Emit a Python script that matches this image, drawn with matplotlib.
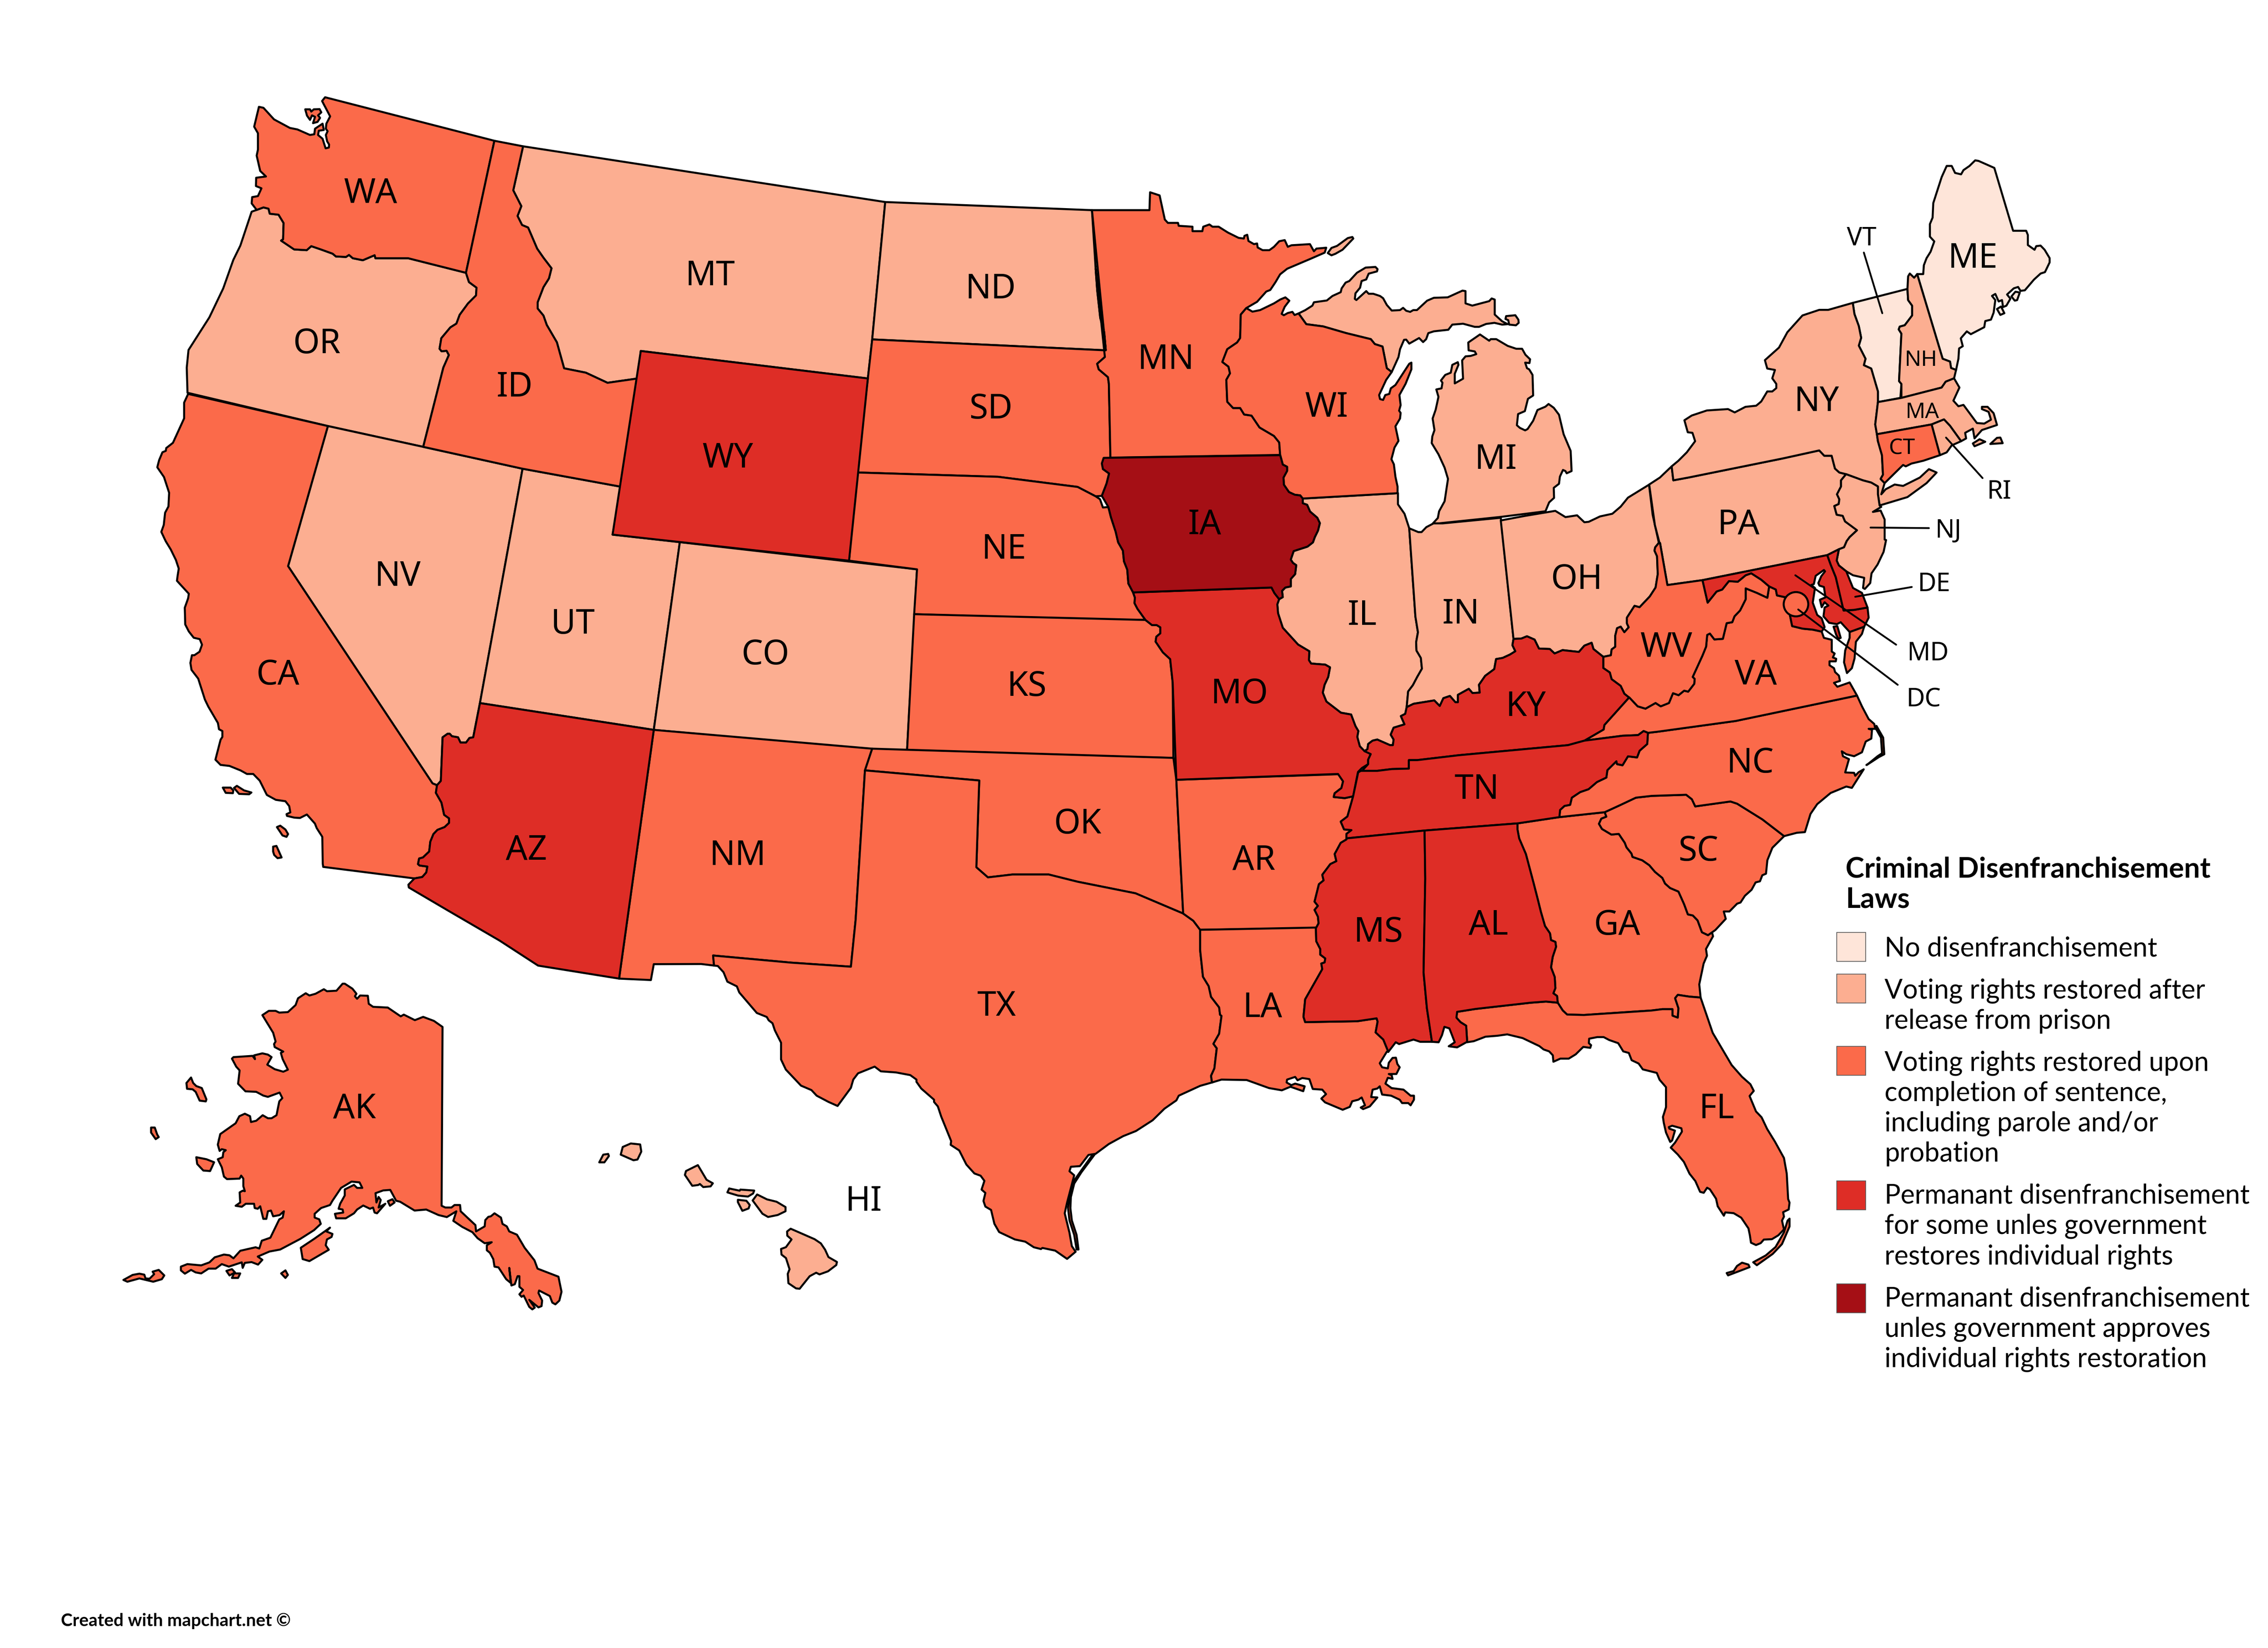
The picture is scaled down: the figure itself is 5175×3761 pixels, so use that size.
#!/usr/bin/env python
import matplotlib
matplotlib.use('Agg')
import matplotlib.pyplot as plt
from matplotlib.patches import Polygon, Ellipse, Rectangle

W, H = 5175, 3762
K = W / 1568.0


def pv(pts):
    # points at 1568 px wide
    return [(x * K, y * K) for x, y in pts]


def crop(x0, y0, w, h):
    def f(pts):
        return [(x0 + x * w / 1568.0, y0 + y * h / 1568.0) for x, y in pts]
    return f


c1 = crop(3600, 300, 1200, 1000)
c2 = crop(3700, 1200, 800, 700)
c4 = crop(250, 2200, 1100, 900)
c5 = crop(1300, 2550, 800, 500)
c6 = crop(2900, 1700, 1200, 800)
c7 = crop(3200, 2300, 1000, 700)
c8 = crop(2500, 400, 1100, 800)
c9 = crop(340, 200, 900, 900)
c10 = crop(340, 900, 800, 1250)
c11 = crop(1600, 2100, 1700, 800)
c12 = crop(2500, 1000, 1300, 800)

colors = ['#FEE5D9', '#FCAE91', '#FB6A4A', '#DE2D26', '#A50F15']
legend_title = ['Criminal Disenfranchisement', 'Laws']
legend_lines = [
    ['No disenfranchisement'],
    ['Voting rights restored after', 'release from prison'],
    ['Voting rights restored upon', 'completion of sentence,', 'including parole and/or', 'probation'],
    ['Permanant disenfranchisement', 'for some unles government', 'restores individual rights'],
    ['Permanant disenfranchisement', 'unles government approves', 'individual rights restoration'],
]
legend_swatch_y = [645, 674, 724, 817, 888]
legend_text_y = [656, 685, 735, 827, 898]

group0 = ['ME', 'VT']
group1 = ['OR', 'MT', 'ND', 'NV', 'UT', 'CO', 'MI', 'IL', 'IN', 'OH', 'PA', 'NY', 'NJ', 'NH', 'MA', 'RI', 'HI']
group2 = ['WA', 'ID', 'CA', 'SD', 'NE', 'KS', 'NM', 'OK', 'TX', 'MN', 'WI', 'AR', 'LA', 'GA', 'SC', 'NC', 'VA',
          'WV', 'FL', 'AK', 'CT']
group3 = ['WY', 'AZ', 'MO', 'KY', 'TN', 'MS', 'AL', 'MD', 'DE']
group4 = ['IA']

big_labels = {
    'WA': (256, 134), 'OR': (219, 238), 'CA': (192, 467), 'ID': (356, 268), 'MT': (491, 191), 'NV': (275, 399),
    'UT': (396, 432), 'WY': (503, 317), 'CO': (529, 453), 'AZ': (364, 588), 'NM': (510, 592), 'ND': (685, 200),
    'SD': (685, 283), 'NE': (694, 380), 'KS': (710, 475), 'OK': (745, 570), 'TX': (689, 696), 'MN': (806, 249),
    'IA': (833, 363), 'MO': (857, 480), 'AR': (867, 595), 'LA': (873, 697), 'WI': (917, 282), 'IL': (942, 426),
    'MI': (1034, 318), 'IN': (1010, 425), 'OH': (1090, 401), 'KY': (1055, 489), 'TN': (1021, 546), 'MS': (953, 645),
    'AL': (1029, 640), 'GA': (1118, 640), 'FL': (1187, 767), 'SC': (1174, 589), 'NC': (1210, 528), 'VA': (1214, 467),
    'WV': (1152, 448), 'PA': (1202, 363), 'NY': (1256, 278), 'ME': (1364, 179), 'AK': (245, 767), 'HI': (597, 831),
}
small_labels = {'NH': (1328, 249), 'MA': (1329, 285), 'CT': (1315, 310)}
side_labels = {'VT': (1287, 165), 'RI': (1382, 340), 'NJ': (1347, 367), 'DE': (1337, 404), 'MD': (1333, 452),
               'DC': (1330, 484)}

leaders = [
    c1([(853, 435), (908, 652)]),
    c1([(1098, 1097), (1207, 1242)]),
    c1([(873, 1419), (1047, 1421)]),
    c2([(1045, 365), (1298, 315)]),
    c2([(777, 255), (1228, 610)]),
    c2([(790, 430), (1235, 815)]),
]

# shared borders
mn_wi = [(490, 596), (472, 625), (470, 730), (460, 750), (428, 780), (412, 837), (432, 858), (437, 888), (425, 917),
         (428, 1015), (447, 1043), (470, 1043), (483, 1072), (507, 1077), (533, 1130), (580, 1168), (597, 1197),
         (600, 1253)]
wi_upper = [(660, 620), (685, 668), (740, 678), (815, 708), (895, 735), (908, 757), (933, 768), (947, 865), (963, 882)]
ia_east = [(508, 78), (515, 120), (527, 130), (527, 148), (517, 178), (518, 210), (532, 243), (548, 255), (563, 258),
           (570, 272), (570, 293), (582, 300), (590, 330), (610, 358), (617, 382), (612, 415), (603, 445), (598, 468),
           (583, 487), (545, 507), (537, 545), (543, 560), (552, 570), (549, 610), (537, 632), (537, 665), (522, 670),
           (513, 685), (515, 713), (505, 722)]
ia_west = [(103, 692), (90, 652), (87, 590), (78, 553), (75, 505), (62, 468), (55, 420), (42, 355), (35, 310), (17, 260),
           (30, 205), (37, 160), (20, 140), (17, 115), (22, 90)]
mo_il = [(505, 722), (500, 745), (502, 785), (515, 850), (557, 925), (588, 955), (587, 995), (593, 1010), (632, 1015),
         (645, 1027), (640, 1070), (630, 1105), (625, 1140), (635, 1180), (675, 1230), (703, 1238), (715, 1290),
         (723, 1312), (720, 1338), (727, 1380), (740, 1402)]
mo_ks = [(137, 815), (155, 838), (168, 838), (178, 848), (178, 875), (167, 890), (165, 912), (185, 960), (205, 990),
         (212, 1095), (214, 1432)]
ne_ia = [(35, 310), (42, 355), (55, 420), (62, 468), (75, 505), (78, 553), (87, 590), (90, 652), (103, 692), (108, 715),
         (107, 740), (115, 765), (137, 815)]
il_in = [(863, 405), (880, 800), (887, 870), (882, 915), (883, 952), (895, 985), (898, 1033), (885, 1070), (873, 1107),
         (860, 1135), (856, 1205)]
in_ky = [(856, 1205), (875, 1190), (932, 1175), (947, 1200), (957, 1165), (975, 1155), (990, 1183), (997, 1183),
         (997, 1150), (1027, 1123), (1037, 1142), (1057, 1140), (1055, 1105), (1072, 1065), (1097, 1035), (1102, 990),
         (1120, 985), (1140, 970), (1155, 955), (1147, 928), (1150, 900)]
oh_ky = [(1150, 900), (1172, 898), (1187, 888), (1208, 903), (1220, 943), (1250, 945), (1263, 965), (1285, 950),
         (1330, 958), (1345, 930), (1365, 917), (1370, 945), (1397, 980)]
oh_wv = [(1550, 470), (1540, 490), (1538, 505), (1545, 530), (1547, 610), (1541, 670), (1525, 710), (1497, 758),
         (1483, 752), (1462, 805), (1462, 830), (1467, 848), (1455, 870), (1445, 845), (1435, 852), (1430, 885),
         (1430, 935), (1420, 947), (1418, 973), (1397, 980)]
ky_wv = [(1397, 980), (1397, 1030), (1415, 1050), (1420, 1080), (1445, 1110), (1455, 1145), (1468, 1162)]
ky_il = [(740, 1402), (748, 1393), (750, 1370), (762, 1355), (775, 1350), (810, 1375), (818, 1375), (820, 1350),
         (812, 1328), (820, 1297), (850, 1282), (840, 1245), (852, 1235), (856, 1205)]
ky_tn = [(733, 1490), (775, 1490), (815, 1482), (862, 1480), (862, 1442), (885, 1442), (1000, 1420), (1300, 1375),
         (1345, 1355)]
ky_va = [(1468, 1162), (1400, 1285), (1398, 1305), (1345, 1355)]
tn_va = [(1345, 1355), (1450, 1333), (1493, 1330), (1508, 1312), (1520, 1320)]
tn_nc_c12 = [(1520, 1320), (1518, 1370), (1497, 1400), (1490, 1430), (1465, 1425), (1450, 1465), (1435, 1460),
             (1433, 1448)]
tn_nc_c6 = [(1030, 75), (1003, 115), (1000, 148), (972, 168), (947, 200), (922, 213), (897, 238), (892, 270), (875, 275),
            (862, 293), (860, 325)]
tn_west = [(225, 420), (225, 400), (240, 383), (218, 380), (208, 345), (228, 322), (245, 232), (260, 125), (268, 118)]
mo_ar = [(245, 232), (220, 240), (187, 235), (190, 218), (210, 195), (215, 165), (200, 132)]
ms_ar = [(225, 425), (208, 440), (190, 490), (195, 522), (177, 535), (153, 583), (157, 608), (143, 625), (130, 703),
         (140, 722), (130, 740), (140, 770), (142, 800), (134, 822)]
ms_la = [(134, 822), (135, 880), (147, 915), (147, 940), (162, 957), (160, 975), (150, 980), (153, 1005), (102, 1140),
         (97, 1218), (102, 1242), (257, 1238), (315, 1225), (318, 1240), (312, 1288), (335, 1320), (350, 1375)]
al_ga = [(735, 353), (735, 380), (740, 420), (760, 490), (783, 620), (795, 690), (805, 750), (817, 812), (832, 845),
         (835, 875), (848, 883), (850, 905), (840, 950), (835, 997), (846, 1040), (848, 1090), (842, 1113), (853, 1125),
         (855, 1155)]
ga_fl = [(855, 1155), (870, 1190), (883, 1208), (933, 1210), (1135, 1190), (1167, 1184), (1197, 1184), (1197, 1213),
         (1213, 1222), (1215, 1180), (1205, 1135), (1213, 1120), (1248, 1128), (1281, 1132)]
al_fl = [(855, 1155), (820, 1150), (775, 1155), (610, 1183), (555, 1196), (553, 1222), (565, 1242), (582, 1258),
         (585, 1330)]
ga_sc = [(995, 303), (1000, 323), (985, 332), (978, 355), (987, 378), (1015, 403), (1037, 400), (1055, 440), (1060, 460),
         (1075, 488), (1078, 503), (1107, 518), (1128, 540), (1145, 570), (1167, 597), (1175, 622), (1190, 642),
         (1215, 658), (1232, 715), (1243, 760), (1258, 765), (1272, 787), (1285, 840), (1303, 853)]
nc_sc = [(995, 303), (1040, 272), (1088, 238), (1135, 230), (1238, 225), (1255, 245), (1265, 277), (1370, 255),
         (1390, 265), (1465, 335), (1530, 410)]
va_wv = [(35, 880), (72, 925), (107, 937), (152, 908), (175, 925), (212, 908), (230, 858), (255, 868), (280, 845),
         (298, 850), (325, 810), (327, 785), (318, 775), (362, 665), (378, 620), (383, 560), (395, 553), (415, 583),
         (453, 580), (470, 500), (495, 495), (505, 465), (530, 435), (555, 378), (555, 322), (605, 345), (652, 370),
         (660, 312)]
md_wv = [(660, 312), (625, 278), (580, 245), (555, 255), (520, 288), (480, 285), (450, 328), (425, 338), (385, 395),
         (362, 280)]
ny_west = [(280, 1200), (300, 1180), (325, 1150), (350, 1110), (342, 1080), (328, 1078), (318, 1035), (340, 1018),
           (385, 1000), (448, 995), (468, 1007), (500, 987), (532, 983), (547, 968), (565, 932), (580, 932), (592, 920),
           (592, 905), (580, 885), (588, 855), (565, 850), (558, 820), (600, 775), (625, 720), (670, 660), (720, 640),
           (747, 640), (820, 615)]
ny_vt = [(820, 615), (825, 655), (838, 698), (845, 740), (838, 768), (858, 815), (853, 838), (875, 850), (895, 932),
         (895, 970)]
ny_ma_ct = [(895, 970), (887, 1050), (892, 1085), (895, 1110), (907, 1160), (910, 1230), (903, 1245), (915, 1260)]
ny_pa = [(280, 1200), (285, 1250), (330, 1240), (610, 1172), (720, 1143), (735, 1162), (757, 1162), (767, 1208),
         (780, 1222), (800, 1228)]
ny_nj = [(800, 1228), (850, 1250), (875, 1258), (895, 1272), (895, 1300), (900, 1340)]
pa_nj = [(800, 1228), (785, 1250), (785, 1272), (773, 1300), (780, 1318), (778, 1335), (765, 1342), (772, 1373),
         (790, 1377), (797, 1397), (833, 1428)]
pa_de = [(1053, 25), (1020, 60), (1007, 80), (995, 112), (972, 122), (920, 152)]
vt_nh = [(983, 565), (985, 605), (997, 625), (997, 660), (975, 695), (960, 700), (957, 710), (965, 725), (958, 895),
         (965, 905), (962, 955)]
nh_me = [(1012, 512), (1088, 815), (1110, 825), (1113, 848), (1128, 855)]
ca_az = [(1187, 1387), (1222, 1383), (1240, 1370), (1245, 1353), (1210, 1350), (1203, 1346), (1208, 1330), (1225, 1327),
         (1253, 1310), (1258, 1282), (1272, 1260), (1290, 1248), (1322, 1240), (1342, 1228), (1342, 1215), (1320, 1205),
         (1308, 1170), (1283, 1142), (1288, 1120)]
nv_az = [(1288, 1120), (1305, 1108), (1313, 983), (1335, 973), (1345, 973), (1355, 980), (1382, 983), (1393, 998),
         (1418, 998), (1433, 985), (1450, 983), (1480, 885)]
wa_or = [(408, 495), (428, 488), (455, 478), (475, 483), (480, 503), (515, 507), (535, 540), (533, 605), (525, 610),
         (577, 645), (627, 648), (645, 632), (683, 645), (730, 662), (743, 673), (783, 675), (795, 667), (810, 680),
         (850, 688), (897, 668), (900, 680), (1030, 680), (1260, 738)]
or_id = [(1260, 738), (1272, 775), (1302, 797), (1300, 828), (1268, 860), (1235, 905), (1222, 940), (1198, 955),
         (1162, 998), (1155, 1040), (1163, 1050), (1183, 1048), (1192, 1065), (1170, 1115), (1090, 1430)]
id_mt_c9 = [(1487, 235), (1448, 410), (1480, 473), (1465, 512), (1483, 548), (1507, 558), (1543, 642), (1568, 678),
            (1600, 720), (1590, 760), (1568, 795), (1545, 855), (1545, 880), (1568, 908)]
id_mt_pv = [(378, 225), (385, 237), (390, 255), (405, 258), (420, 265), (441, 262)]
ok_tx = [(677, 540), (675, 600), (683, 607), (700, 605), (725, 605), (745, 610), (785, 618), (818, 632), (825, 637)]
tx_coast = [(1075, 728), (1050, 743), (1005, 787), (1000, 808), (975, 845), (950, 897), (915, 945), (888, 968),
            (858, 1003), (830, 1047), (815, 1052), (797, 1102), (778, 1105), (775, 1125), (785, 1143), (770, 1265),
            (765, 1313), (775, 1400), (780, 1460), (788, 1485), (770, 1517), (745, 1480), (718, 1468), (715, 1473),
            (700, 1465), (682, 1440), (660, 1430), (627, 1397), (617, 1360), (610, 1298), (598, 1283), (594, 1258),
            (598, 1222), (590, 1207), (596, 1168), (588, 1145), (575, 1135), (558, 1095), (543, 1032), (525, 1007),
            (526, 990), (505, 880), (498, 835), (490, 815), (490, 805), (463, 755), (453, 725), (453, 715), (440, 695),
            (410, 683), (378, 678), (365, 657), (330, 687), (320, 715), (315, 752), (287, 833), (268, 815), (243, 787),
            (232, 762), (210, 742), (178, 670), (168, 625), (168, 550), (155, 495), (150, 463), (142, 450), (138, 435),
            (117, 417), (80, 325), (75, 298), (55, 277), (47, 235), (35, 207), (27, 205)]
tx_nm = [(27, 205), (25, 160), (190, 192), (315, 210), (325, 0)]
tx_la = [(1050, 45), (1050, 135), (1056, 255), (1068, 297), (1073, 345), (1090, 392), (1092, 425), (1095, 430),
         (1090, 510), (1078, 555), (1085, 575), (1080, 665), (1073, 698), (1075, 728)]
la_coast = [(1075, 728), (1095, 715), (1148, 717), (1195, 753), (1222, 763), (1240, 747), (1267, 767), (1270, 745),
            (1250, 733), (1242, 740), (1232, 728), (1233, 715), (1250, 703), (1255, 718), (1265, 708), (1280, 713),
            (1287, 757), (1307, 760), (1315, 780), (1305, 800), (1313, 817), (1350, 850), (1365, 837), (1370, 812),
            (1383, 805), (1390, 795), (1397, 830), (1388, 840), (1393, 847), (1407, 835), (1423, 795), (1410, 793),
            (1413, 760), (1423, 755), (1428, 745), (1433, 782), (1452, 787), (1470, 805), (1475, 820), (1488, 820),
            (1493, 830), (1500, 805), (1500, 787), (1493, 787), (1478, 760), (1453, 753), (1440, 733), (1445, 707),
            (1455, 712), (1453, 695), (1447, 690), (1463, 690), (1470, 660), (1465, 645), (1462, 617), (1455, 618),
            (1447, 640), (1445, 665), (1433, 660), (1428, 642), (1443, 590)]
sd_mn = [(33, 785), (30, 815), (5, 845), (10, 870), (40, 905), (43, 935), (48, 1265)]
nd_mn = [(33, 785), (28, 705), (15, 640), (5, 515), (0, 420), (-12, 158)]
wi_lake = [(963, 882), (945, 917), (922, 985), (925, 1003), (935, 1007), (942, 985), (955, 980), (960, 955), (975, 940),
           (1020, 845), (1027, 840), (1027, 870), (1008, 935), (988, 985), (992, 1030), (987, 1055), (992, 1065),
           (990, 1090), (975, 1125), (985, 1190), (972, 1220), (962, 1272), (970, 1295), (975, 1350), (982, 1395),
           (982, 1423)]
wi_sup = [(490, 596), (510, 612), (535, 605), (580, 575), (600, 558), (617, 548), (630, 563), (615, 590), (605, 622),
          (612, 628), (625, 618), (640, 613), (647, 627), (660, 620)]
mn_top = [(-12, 158), (175, 158), (177, 78), (208, 92), (225, 200), (235, 215), (268, 215), (270, 228), (315, 232),
          (315, 252), (347, 252), (350, 232), (370, 222), (380, 232), (400, 232), (430, 258), (465, 282), (482, 285),
          (484, 273), (493, 268), (497, 296), (515, 310), (525, 307), (527, 325), (543, 337), (565, 337), (580, 322),
          (597, 297), (615, 292), (625, 322), (637, 315), (697, 310), (710, 342), (718, 330), (750, 326), (745, 348),
          (700, 375), (623, 420), (600, 445), (585, 480), (568, 515), (555, 522), (525, 568), (490, 596)]
mi_upper = [(660, 620), (682, 605), (705, 585), (710, 570), (752, 562), (770, 542), (797, 525), (800, 508), (813, 482),
            (825, 475), (850, 438), (878, 415), (910, 412), (917, 422), (915, 432), (888, 442), (880, 468), (865, 475),
            (860, 505), (845, 530), (843, 555), (848, 560), (880, 520), (888, 532), (903, 532), (925, 542), (935, 552),
            (947, 582), (963, 607), (990, 605), (1000, 595), (1010, 608), (1023, 613), (1033, 605), (1045, 605),
            (1078, 563), (1100, 550), (1145, 548), (1193, 518), (1203, 520), (1203, 575), (1225, 585), (1280, 565),
            (1288, 553), (1298, 558), (1298, 625), (1322, 655), (1340, 668), (1322, 670), (1297, 662), (1270, 667),
            (1247, 680), (1233, 680), (1195, 666), (1160, 670), (1147, 693), (1100, 700), (1082, 708), (1075, 735),
            (1065, 748), (1052, 730), (1020, 755), (1010, 737), (1003, 738), (990, 780), (985, 815), (963, 882)]
mi_lower = [(1250, 714), (1280, 742), (1285, 735), (1303, 735), (1340, 765), (1368, 778), (1387, 778), (1398, 805),
            (1413, 825), (1411, 842), (1397, 840), (1403, 865), (1410, 870), (1421, 895), (1423, 987), (1406, 1002),
            (1396, 1057), (1374, 1070), (1370, 1120), (1380, 1132), (1397, 1143), (1405, 1137), (1423, 1100),
            (1437, 1052), (1463, 1037), (1473, 1025), (1490, 1042), (1507, 1073), (1522, 1160), (1545, 1235),
            (1548, 1325), (1532, 1335), (1528, 1325), (1520, 1320), (1510, 1350), (1507, 1382), (1490, 1400),
            (1491, 1445), (1475, 1465), (1463, 1505), (1318, 1530), (1095, 1562), (1113, 1535), (1117, 1505),
            (1135, 1460), (1146, 1360), (1135, 1310), (1115, 1250), (1093, 1200), (1095, 1170), (1102, 1142),
            (1096, 1090), (1106, 1050), (1115, 993), (1108, 960), (1125, 955), (1128, 930), (1123, 920), (1137, 895),
            (1155, 885), (1160, 850), (1178, 838), (1180, 850), (1168, 890), (1168, 933), (1195, 912), (1192, 830),
            (1203, 812), (1220, 810), (1238, 802), (1233, 790), (1213, 785), (1212, 750)]
isle_royale = [(755, 350), (767, 327), (785, 318), (820, 283), (835, 278), (838, 285), (803, 335), (780, 353), (767, 360)]
bois_blanc = [(1335, 632), (1365, 628), (1375, 648), (1376, 662), (1367, 673), (1345, 670), (1342, 650), (1333, 645)]
me_main = [(1012, 512), (1030, 512), (1032, 480), (1040, 455), (1052, 432), (1063, 395), (1050, 378), (1050, 333),
           (1058, 310), (1060, 258), (1085, 165), (1100, 125), (1115, 125), (1125, 150), (1143, 155), (1150, 140),
           (1168, 125), (1185, 105), (1195, 107), (1242, 132), (1298, 357), (1337, 357), (1342, 372), (1342, 408),
           (1362, 425), (1367, 412), (1380, 410), (1392, 425), (1407, 455), (1407, 470), (1393, 505), (1380, 510),
           (1360, 532), (1333, 570), (1320, 572), (1313, 558), (1300, 563), (1280, 585), (1290, 600), (1278, 625),
           (1268, 630), (1265, 605), (1255, 610), (1245, 583), (1235, 590), (1245, 605), (1240, 650), (1232, 675),
           (1215, 680), (1212, 702), (1172, 727), (1160, 717), (1142, 742), (1148, 770), (1137, 778), (1135, 815),
           (1128, 855)]
me_isle1 = [(1293, 592), (1305, 575), (1318, 578), (1310, 605), (1303, 607)]
me_isle2 = [(1250, 637), (1262, 628), (1272, 652), (1260, 658)]
fl_gulf = [(1110, 130), (1178, 295), (1215, 355), (1245, 393), (1257, 427), (1242, 453), (1265, 532), (1285, 562),
           (1305, 622), (1333, 687), (1365, 770), (1375, 850), (1380, 980), (1385, 998), (1382, 1033), (1362, 1047),
           (1365, 1070), (1358, 1090), (1365, 1135), (1345, 1165), (1322, 1185), (1293, 1187), (1282, 1205), (1265, 1215),
           (1247, 1203), (1243, 1165), (1238, 1130), (1212, 1075), (1185, 1052), (1155, 1048), (1150, 1065), (1128, 1017),
           (1122, 978), (1100, 930), (1090, 922), (1078, 948), (1065, 943), (1048, 888), (1027, 850), (1007, 790),
           (985, 752), (960, 717), (975, 692), (1000, 635), (998, 618), (965, 605), (953, 612), (955, 620), (975, 630),
           (965, 680), (958, 688), (943, 640), (935, 590), (932, 560), (943, 510), (943, 408), (920, 370), (910, 335),
           (860, 317), (845, 287), (820, 270), (810, 233), (790, 225), (772, 183), (740, 167), (720, 152), (697, 152),
           (668, 160), (667, 183), (675, 193), (672, 207), (647, 202), (620, 240), (595, 262), (565, 262), (540, 278),
           (538, 245), (525, 225), (505, 215), (490, 198), (430, 157), (375, 138), (340, 145), (297, 150), (255, 173),
           (232, 178)]
fl_keys1 = [(1385, 1080), (1385, 1120), (1358, 1210), (1325, 1260), (1268, 1318), (1255, 1303), (1300, 1268),
            (1335, 1225), (1365, 1150), (1378, 1090)]
fl_keys2 = [(1160, 1358), (1185, 1348), (1197, 1322), (1215, 1305), (1238, 1315), (1242, 1328), (1165, 1370)]
ak_main = [(497, 205), (518, 188), (540, 188), (552, 195), (580, 193), (605, 165), (613, 138), (638, 118), (650, 127),
           (670, 120), (697, 102), (707, 110), (738, 108), (758, 80), (765, 80), (790, 100), (803, 120), (798, 130),
           (805, 140), (815, 127), (840, 128), (843, 160), (857, 172), (905, 175), (947, 210), (957, 203), (993, 225),
           (1020, 212), (1055, 228), (1083, 252), (1080, 963), (1092, 970), (1112, 970), (1122, 960), (1140, 960),
           (1142, 985), (1190, 1040), (1192, 1065), (1220, 1045), (1222, 1020), (1232, 1007), (1240, 1005), (1252, 993),
           (1273, 1010), (1278, 1035), (1292, 1045), (1300, 1065), (1325, 1078), (1350, 1130), (1382, 1180), (1392, 1213),
           (1460, 1245), (1470, 1305), (1463, 1340), (1450, 1355), (1440, 1348), (1432, 1322), (1397, 1300), (1395, 1310),
           (1407, 1340), (1405, 1362), (1395, 1367), (1365, 1337), (1383, 1368), (1375, 1375), (1365, 1365), (1347, 1320),
           (1340, 1325), (1333, 1315), (1345, 1298), (1333, 1285), (1333, 1243), (1327, 1243), (1318, 1275), (1307, 1280),
           (1300, 1210), (1305, 1270), (1290, 1255), (1265, 1208), (1252, 1205), (1248, 1175), (1237, 1150), (1227, 1140),
           (1227, 1120), (1243, 1108), (1220, 1112), (1197, 1092), (1180, 1068), (1147, 1047), (1118, 1023), (1128, 985),
           (1097, 1008), (1070, 1000), (1030, 978), (992, 982), (945, 947), (932, 943), (913, 900), (890, 902), (865, 913),
           (868, 950), (875, 928), (882, 940), (875, 970), (897, 955), (870, 993), (862, 990), (857, 970), (847, 975),
           (825, 962), (805, 978), (795, 993), (768, 1013), (737, 1013), (733, 995), (760, 990), (758, 978), (745, 975),
           (750, 955), (765, 922), (765, 898), (795, 880), (805, 892), (822, 892), (813, 870), (787, 867), (753, 892),
           (725, 943), (717, 960), (688, 972), (667, 995), (667, 1010), (682, 1017), (687, 1035), (665, 1060), (620, 1095),
           (555, 1137), (520, 1145), (482, 1165), (497, 1178), (483, 1197), (462, 1187), (440, 1190), (433, 1210),
           (430, 1188), (388, 1205), (365, 1195), (345, 1213), (322, 1213), (298, 1232), (280, 1228), (265, 1218),
           (245, 1233), (232, 1220), (232, 1205), (253, 1195), (298, 1200), (325, 1188), (342, 1168), (372, 1157),
           (390, 1160), (403, 1172), (425, 1142), (475, 1128), (487, 1133), (495, 1102), (523, 1090), (552, 1017),
           (563, 1010), (567, 985), (553, 1000), (532, 1005), (525, 982), (515, 985), (510, 1015), (500, 1015), (490, 965),
           (482, 975), (472, 972), (470, 955), (443, 955), (430, 967), (410, 963), (425, 950), (423, 910), (433, 903),
           (440, 905), (435, 885), (435, 855), (428, 843), (423, 855), (382, 857), (372, 847), (365, 810), (352, 778),
           (368, 770), (370, 750), (378, 742), (365, 738), (358, 745), (352, 720), (360, 678), (410, 635), (422, 607),
           (440, 597), (457, 607), (460, 630), (477, 625), (498, 603), (515, 615), (527, 615), (543, 603), (552, 548),
           (562, 535), (553, 513), (515, 530), (500, 525), (477, 510), (442, 508), (418, 478), (423, 425), (412, 410),
           (398, 378), (403, 372), (465, 367), (473, 380), (470, 365), (497, 357), (515, 362), (527, 372), (513, 402),
           (537, 420), (565, 430), (580, 422), (563, 380), (557, 355), (565, 350), (537, 332), (535, 320), (540, 310),
           (532, 275)]
ak_islands = [
    [(265, 453), (272, 475), (282, 487), (300, 495), (315, 540), (313, 548), (293, 545), (280, 510), (270, 500), (252, 498),
     (250, 475)],
    [(135, 652), (147, 652), (155, 680), (160, 690), (150, 698), (135, 672)],
    [(282, 770), (315, 778), (340, 790), (327, 825), (305, 823), (285, 797)],
    [(622, 1130), (665, 1095), (717, 1050), (705, 1065), (725, 1075), (722, 1087), (707, 1097), (703, 1120), (713, 1138),
     (650, 1183), (628, 1175)],
    [(45, 1258), (75, 1238), (97, 1233), (113, 1237), (117, 1252), (130, 1253), (145, 1235), (140, 1225), (160, 1218),
     (178, 1240), (170, 1255), (142, 1265), (118, 1258), (97, 1252), (58, 1265)],
    [(380, 1222), (398, 1215), (408, 1228), (390, 1240)],
    [(405, 1232), (425, 1232), (418, 1250), (398, 1250)],
    [(558, 1232), (572, 1220), (580, 1238), (572, 1250)],
    [(905, 945), (920, 937), (927, 950), (912, 963)],
]
hi_islands = [
    [(150, 270), (172, 265), (175, 280), (155, 325), (132, 325)],
    [(237, 215), (273, 190), (315, 197), (320, 248), (303, 305), (285, 310), (228, 270)],
    [(520, 387), (573, 345), (612, 450), (640, 475), (630, 497), (597, 502), (582, 480), (575, 487), (548, 493), (515, 415)],
    [(713, 512), (760, 528), (763, 520), (825, 527), (820, 548), (797, 570), (753, 563), (705, 540)],
    [(752, 593), (790, 600), (805, 630), (800, 655), (772, 672), (752, 610)],
    [(838, 555), (882, 590), (925, 607), (965, 645), (965, 675), (930, 702), (887, 716), (862, 693), (818, 598)],
    [(988, 800), (1095, 875), (1123, 905), (1142, 950), (1157, 1003), (1195, 1038), (1192, 1060), (1155, 1105), (1117, 1127),
     (1102, 1115), (1073, 1140), (1028, 1230), (1012, 1227), (978, 1190), (975, 1123), (983, 1090), (967, 1010), (947, 985),
     (945, 945), (967, 932), (992, 877), (973, 850), (972, 820)],
]
ca_coast = [(175, 0), (157, 25), (157, 70), (107, 140), (77, 155), (75, 163), (60, 167), (45, 190), (37, 210), (67, 238),
            (90, 283), (87, 322), (72, 340), (66, 375), (55, 395), (75, 422), (97, 445), (120, 475), (133, 500), (128, 520),
            (125, 535), (178, 572), (175, 585), (160, 612), (162, 660), (178, 680), (200, 698), (227, 702), (237, 718),
            (226, 738), (203, 748), (192, 748), (185, 770), (190, 790), (220, 815), (250, 875), (265, 895), (308, 942),
            (313, 960), (328, 965), (328, 982), (320, 990), (297, 1047), (320, 1062), (360, 1065), (410, 1078), (438, 1088),
            (466, 1088), (495, 1107), (527, 1148), (567, 1162), (610, 1166), (627, 1180), (632, 1198), (615, 1203),
            (617, 1208), (650, 1213), (675, 1214), (706, 1204), (742, 1230), (750, 1243), (775, 1268), (777, 1345),
            (779, 1354), (1187, 1387)]
ca_islands = [
    [(330, 1127), (365, 1127), (377, 1135), (375, 1143), (343, 1142)],
    [(380, 1128), (393, 1122), (425, 1135), (458, 1141), (448, 1146), (403, 1145)],
    [(572, 1240), (587, 1236), (610, 1247), (622, 1260), (615, 1268), (597, 1264)],
    [(555, 1296), (570, 1294), (593, 1327), (575, 1329), (560, 1320), (555, 1310)],
]
or_coast = [(153, 1215), (150, 1115), (157, 1045), (240, 915), (295, 800), (335, 687), (363, 630), (408, 495)]
wa_coast = [(428, 488), (408, 462), (410, 437), (433, 433), (447, 402), (425, 393), (426, 360), (465, 355), (442, 333),
            (428, 272), (433, 248), (433, 183), (418, 157), (437, 78), (455, 82), (497, 128), (560, 162), (590, 168),
            (640, 190), (657, 187), (660, 165), (690, 145), (695, 170), (675, 173), (672, 190), (690, 205), (702, 243),
            (715, 240), (716, 228), (708, 215), (703, 190), (710, 175), (703, 165), (705, 145), (720, 116), (688, 55),
            (700, 40), (1373, 213)]
san_juan = [(621, 88), (640, 88), (645, 97), (655, 88), (678, 87), (685, 100), (672, 112), (680, 122), (670, 138), (652, 143),
            (660, 118), (648, 112), (640, 130), (628, 113)]
padre = [(828, 1050), (800, 1130), (785, 1180), (778, 1240), (777, 1290), (780, 1345), (790, 1410), (794, 1475), (790, 1475),
         (785, 1410), (775, 1345), (772, 1290), (775, 1235), (782, 1175), (797, 1130), (824, 1050)]
outer_banks = [(1140, 1025), (1170, 1085), (1175, 1170), (1150, 1185), (1110, 1215), (1095, 1225), (1100, 1222),
               (1145, 1180), (1165, 1165), (1160, 1085), (1133, 1030)]
nc_coast = [(1053, 870), (1075, 925), (1105, 990), (1130, 1015), (1135, 1040), (1105, 1040), (1120, 1045), (1117, 1090),
            (1092, 1105), (1075, 1160), (1040, 1180), (1005, 1170), (985, 1155), (990, 1180), (1017, 1195), (1000, 1263),
            (1040, 1265), (1045, 1280), (1060, 1262), (1083, 1247), (1030, 1342), (1005, 1335), (935, 1368), (875, 1425),
            (845, 1475), (820, 1568)]
va_md = [(660, 312), (690, 328), (695, 358), (735, 368), (755, 470), (763, 515), (810, 528), (855, 533), (895, 543)]
va_coast = [(895, 543), (905, 575), (940, 585), (940, 645), (953, 655), (945, 675), (960, 682), (958, 695), (930, 695),
            (930, 715), (950, 730), (955, 750), (972, 768), (977, 795), (950, 805), (965, 825), (1020, 803), (1053, 870)]
md_bay = [(1100, 420), (1105, 472), (1085, 518), (1020, 545), (980, 495), (963, 505), (928, 498), (903, 465), (908, 420),
          (925, 410), (908, 393), (895, 418), (887, 380), (912, 368), (905, 315), (885, 308), (880, 295), (893, 260),
          (910, 235), (905, 228), (868, 258), (860, 300), (848, 305), (865, 320), (855, 395), (875, 458), (895, 475),
          (908, 520), (895, 543)]
de_west = [(920, 152), (935, 200), (958, 265), (993, 435), (1040, 432), (1100, 420)]
de_east = [(1100, 420), (1075, 345), (1035, 320), (1005, 235), (972, 205), (962, 180), (972, 122)]
nj_coast = [(1183, 75), (1172, 135), (1145, 200), (1118, 245), (1112, 295), (1088, 325), (1080, 320), (1085, 268),
            (1035, 255), (1005, 235), (972, 205), (962, 180), (972, 122), (995, 112), (1007, 80), (1020, 60), (1053, 25)]
va_shore = [(1020, 545), (1085, 518), (1075, 555), (1048, 595), (1042, 680), (1030, 730), (1008, 755), (995, 700),
            (1000, 640), (1020, 575)]
md_isle = [(948, 518), (965, 515), (980, 575), (970, 580), (960, 560)]
cape_vine = [(1178, 1118), (1198, 1103), (1215, 1112), (1183, 1128)]
nantucket = [(1230, 1120), (1250, 1098), (1260, 1097), (1267, 1117)]


def rev(pts):
    return list(reversed(pts))


id_sw = [(1485, 1517)]   # ID, NV, UT corner, in the c9 crop

states = {
    'WA': [c9(wa_coast + [(1260, 738)] + rev(wa_or)[1:-1]), c9(san_juan)],
    'OR': [c9(wa_or + or_id + [(710, 1347)] + or_coast)],
    'CA': [c10(ca_coast + ca_az + [(1268, 1115), (622, 493), (800, 92)])] + [c10(p) for p in ca_islands],
    'NV': [c9([(1090, 1430)] + id_sw) + c10(rev(nv_az) + [(1268, 1115), (622, 493), (800, 92)])],
    'ID': [c9([(1373, 213)] + id_mt_c9) + pv(id_mt_pv + [(430, 337)]) + c9(id_sw + rev(or_id))],
    'MT': [c9(id_mt_c9) + pv(id_mt_pv + [(443, 243), (600, 262), (603, 235), (612, 140)])],
    'ND': [pv([(612, 140)]) + c8(rev(nd_mn)) + pv([(603, 235)])],
    'WY': [pv([(443, 243), (600, 262), (587, 388), (423.5, 370)])],
    'SD': [pv([(603, 235)]) + c8(sd_mn) + c12([(20, 140), (37, 160), (30, 205), (17, 260), (0, 262)])
           + pv([(745, 337), (690, 330), (592, 327), (600, 262)])],
    'UT': [c9(id_sw) + pv([(430, 337), (423.5, 370), (470, 375.2), (452, 505)]) + c10([(1480, 885)])],
    'CO': [pv([(470, 375.2), (634, 394), (627, 521), (452, 505)])],
    'NE': [pv([(592, 327), (690, 330), (745, 337)]) + c12([(0, 262), (12, 275), (20, 312)] + ne_ia + [(0, 815)])
           + pv([(632, 425), (634, 394), (587, 388)])],
    'KS': [pv([(632, 425)]) + c12(mo_ks) + pv([(627, 521)])],
    'AZ': [c10([(1480, 885)]) + pv([(452, 505), (428, 677), (372, 668)])
           + c10([(1568, 1565), (1340, 1480), (1162, 1413), (1160, 1405)] + ca_az + nv_az[1:])],
    'NM': [pv([(452, 505), (603, 518), (598, 533)]) + c11(rev(tx_nm) + [(0, 198)]) + pv([(452, 667), (450, 678), (428, 677)])],
    'OK': [pv([(603, 518)]) + c12([(214, 1432), (222, 1530)]) + pv([(815, 575)] + rev(ok_tx)[1:] + [(598, 533)])],
    'TX': [pv([(598, 533)] + ok_tx) + c11([(1050, 45)] + tx_la[1:] + tx_coast + tx_nm[1:]), c11(padre)],
    'MN': [c8(rev(sd_mn)[:-1] + rev(nd_mn[:-1]) + mn_top + mn_wi + [(48, 1265)])],
    'IA': [c12([(22, 90)] + ia_east + [(492, 695), (484, 670)] + ia_west)],
    'MO': [c12(ia_west[:1] + [(484, 670), (492, 695)] + mo_il + [(748, 1393), (757, 1415), (750, 1440), (750, 1460),
                                                                 (733, 1477), (722, 1495)])
           + c6(mo_ar) + c12([(222, 1530)] + rev(mo_ks)[1:] + [(115, 765), (107, 740), (108, 715)])],
    'AR': [c12([(222, 1530), (668, 1505)]) + c6(rev(mo_ar)[1:] + rev(tn_west)[2:] + ms_ar)
           + c11([(1050, 45)]) + pv([(825, 637), (818, 632), (815, 575)])],
    'LA': [c11([(1293, 35), (1050, 45)] + tx_la[1:] + la_coast) + c6(rev(ms_la))],
    'WI': [c8(wi_sup + wi_upper + wi_lake) + c12([(832, 248), (570, 272)] + rev(ia_east[:10])) + c8(rev(mn_wi))],
    'IL': [c12([(570, 272), (832, 248), (832, 298), (850, 340)] + il_in + rev(ky_il)[1:] + rev(mo_il) + rev(ia_east[10:]))],
    'IN': [c12([(863, 405), (888, 422), (897, 422), (910, 400), (930, 383), (955, 383), (1115, 358)]
               + rev(in_ky) + rev(il_in)[1:])],
    'OH': [c12([(1115, 370), (1180, 350), (1265, 327), (1293, 355), (1325, 347), (1345, 378), (1357, 376), (1388, 352),
                (1422, 340), (1445, 308), (1465, 268), (1523, 210), (1533, 345)] + oh_wv + rev(oh_ky))],
    'KY': [c12(ky_il + in_ky[1:] + oh_ky[1:] + ky_wv + ky_va + rev(ky_tn)
               + [(750, 1460), (750, 1440), (757, 1415)])],
    'TN': [c12(ky_tn + tn_va[1:] + tn_nc_c12) + c6(tn_nc_c6 + [(735, 353), (458, 385)] + tn_west)],
    'MS': [c6([(225, 420), (458, 385), (460, 600), (455, 1020), (465, 1180), (480, 1330), (445, 1330), (425, 1320),
               (382, 1340), (372, 1332)] + rev(ms_la) + rev(ms_ar))],
    'AL': [c6([(458, 385)] + al_ga + al_fl + [(555, 1355), (530, 1350), (548, 1332), (532, 1270), (517, 1263), (510, 1300),
                                              (500, 1332), (480, 1330), (465, 1180), (455, 1020), (460, 600)])],
    'GA': [c6(rev(tn_nc_c6)[:1] + [(995, 303)] + ga_sc + [(1315, 840), (1318, 858), (1297, 915), (1300, 945), (1290, 980),
                                                          (1277, 1073), (1281, 1132)] + rev(ga_fl) + rev(al_ga))],
    'FL': [c6([(555, 1196), (610, 1183), (775, 1155), (820, 1150)] + ga_fl) + c7(fl_gulf)
           + c6([(585, 1330), (582, 1258), (565, 1242), (553, 1222)]), c7(fl_keys1), c7(fl_keys2)],
    'SC': [c6(nc_sc + [(1495, 462), (1480, 518), (1476, 578), (1465, 585), (1458, 612), (1445, 617), (1433, 650), (1413, 677),
                       (1400, 707), (1390, 712), (1367, 747), (1350, 747), (1356, 780), (1325, 830)] + rev(ga_sc))],
    'NC': [c6(rev(tn_nc_c6)) + c12(rev(tn_nc_c12)) + c2([(160, 1055), (510, 1000)] + nc_coast) + c6([(1568, 395)] + rev(nc_sc)),
           c2(outer_banks)],
    'VA': [c2(va_md + va_coast + [(510, 1000), (160, 1055)]) + c12(rev(tn_va) + rev(ky_va)) + c2(va_wv), c2(va_shore)],
    'WV': [c12(oh_wv + ky_wv) + c2(va_wv + md_wv + [(205, 305), (172, 90)])],
    'PA': [c1([(213, 1265), (245, 1240)] + ny_pa + pa_nj[1:]) + c2(pa_de[1:] + [(362, 280), (205, 305), (172, 90)])
           + c1([(245, 1480), (230, 1410)])],
    'NY': [c1(ny_west + ny_vt[1:] + ny_ma_ct + [(905, 1300), (918, 1282), (945, 1265), (970, 1270), (1020, 1240), (1047, 1210),
                                                (1070, 1222), (1040, 1260), (983, 1310), (900, 1340)]
              + rev(ny_nj)[1:] + rev(ny_pa))],
    'NJ': [c1(ny_nj + [(905, 1345), (880, 1363), (903, 1358), (915, 1390), (915, 1462)]) + c2(nj_coast) + c1(rev(pa_nj)[1:])],
    'VT': [c1(ny_vt + [(962, 955)] + rev(vt_nh))],
    'NH': [c1([(983, 565), (985, 520), (990, 510), (1003, 525)] + nh_me + [(1122, 885), (1097, 897), (1085, 918), (965, 955)]
              + rev(vt_nh)[1:])],
    'ME': [c1(me_main + rev(nh_me)[1:]), c1(me_isle1), c1(me_isle2)],
    'MA': [c1([(895, 970), (965, 955), (1085, 918), (1097, 897), (1122, 885), (1138, 918), (1120, 965), (1135, 985), (1150, 980),
               (1190, 1045), (1212, 1047), (1232, 1033), (1225, 1005), (1205, 995), (1205, 987), (1222, 987), (1240, 1010),
               (1250, 1052), (1205, 1070), (1183, 1100), (1178, 1065), (1155, 1080), (1158, 1100), (1143, 1110), (1110, 1055),
               (1092, 1032), (1055, 1050), (892, 1085), (887, 1050)]), c1(cape_vine), c1(nantucket)],
    'RI': [c1([(1055, 1050), (1092, 1032), (1110, 1055), (1143, 1110), (1115, 1125), (1100, 1150), (1080, 1160)])],
    'CT': [c1([(892, 1085), (1055, 1050), (1080, 1160), (1030, 1180), (995, 1190), (978, 1200), (970, 1195), (915, 1260),
               (903, 1245), (910, 1230), (907, 1160), (895, 1110)])],
    'DE': [c2(de_west + de_east + [(920, 152)])],
    'MD': [c2([(362, 280), (920, 152)] + de_west[1:] + md_bay + rev(va_md)[1:] + md_wv[1:]), c2(md_isle)],
    'AK': [c4(ak_main)] + [c4(p) for p in ak_islands],
    'HI': [c5(p) for p in hi_islands],
    'MI': [c8(mi_upper + rev(wi_upper)[1:]), c8(mi_lower), c8(isle_royale), c8(bois_blanc)],
}

fig = plt.figure(figsize=(W / 100.0, H / 100.0), dpi=100)
ax = fig.add_axes([0, 0, 1, 1])
ax.set_xlim(0, W)
ax.set_ylim(H, 0)
ax.axis('off')

for color, group in zip(colors, [group0, group1, group2, group3, group4]):
    for name in group:
        for ring in states[name]:
            ax.add_patch(Polygon(ring, closed=True, facecolor=color, edgecolor='black', lw=3.3, joinstyle='round'))

# DC circle
cx, cy = c2([(780, 403)])[0]
ax.add_patch(Ellipse((cx, cy), 2 * 8.5 * K, 2 * 8.4 * K, facecolor=colors[2], edgecolor='black', lw=3.3, zorder=3))

for p in leaders:
    ax.plot([p[0][0], p[1][0]], [p[0][1], p[1][1]], color='black', lw=3, solid_capstyle='round', zorder=4)

for name, (x, y) in big_labels.items():
    ax.text(x * K, y * K, name, ha='center', va='center', fontsize=56, family='Noto Sans', zorder=5)
for name, (x, y) in small_labels.items():
    ax.text(x * K, y * K, name, ha='center', va='center', fontsize=36, family='Noto Sans', zorder=5)
for name, (x, y) in side_labels.items():
    ax.text(x * K, y * K, name, ha='center', va='center', fontsize=42, family='Noto Sans', zorder=5)

# legend
for i, line in enumerate(legend_title):
    ax.text(1276 * K, (601 + 21 * i) * K, line, ha='left', va='center', fontsize=46.5, fontweight='bold', family='Lato')
for color, sy, ty, lines in zip(colors, legend_swatch_y, legend_text_y, legend_lines):
    ax.add_patch(Rectangle((1270 * K, sy * K), 20 * K, 20 * K, facecolor=color, edgecolor='#555555', lw=1.2))
    for i, line in enumerate(lines):
        ax.text(1303 * K, (ty + 21 * i) * K, line, ha='left', va='center', fontsize=44, family='Lato')

ax.text(42 * K, 1121 * K, 'Created with mapchart.net ©', ha='left', va='center', fontsize=29, fontweight='bold',
        family='Lato')

fig.savefig('out.png', dpi=100, facecolor='white')
